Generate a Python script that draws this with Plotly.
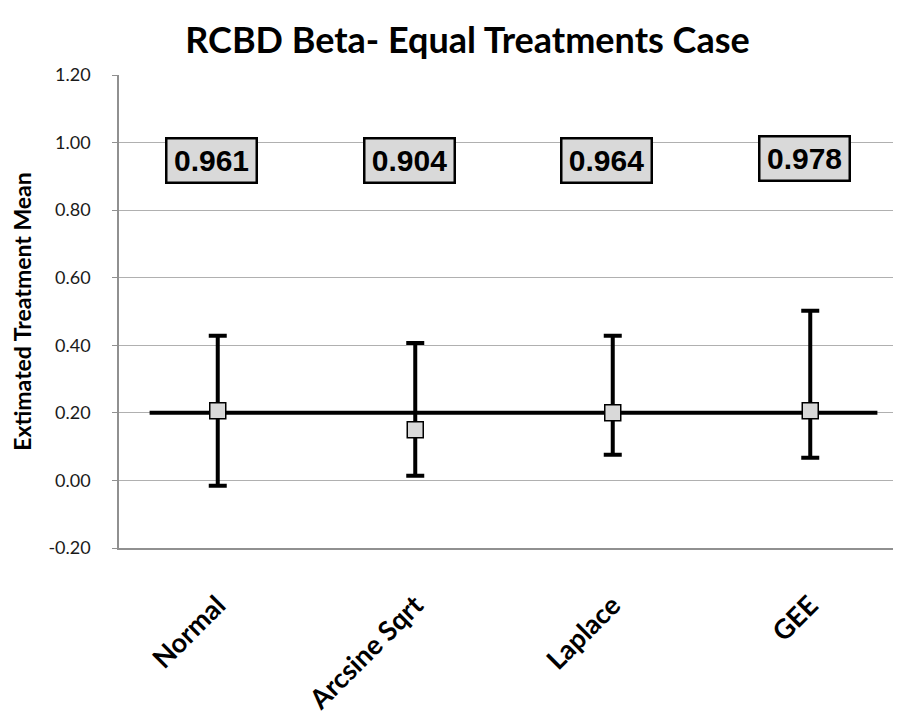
import plotly.graph_objects as go

categories = ["Normal", "Arcsine Sqrt", "Laplace", "GEE"]
means = [0.206, 0.150, 0.200, 0.206]
upper = [0.428, 0.407, 0.428, 0.502]
lower = [-0.016, 0.014, 0.076, 0.067]
coverage_labels = ["0.961", "0.904", "0.964", "0.978"]
label_y = [0.947, 0.947, 0.947, 0.954]
ref_x = [-0.345, 3.34]
ref_y = [0.2, 0.2]
y_ticks = [-0.2, 0.0, 0.2, 0.4, 0.6, 0.8, 1.0, 1.2]

xpos = list(range(len(categories)))
err_plus = [u - m for u, m in zip(upper, means)]
err_minus = [m - l for m, l in zip(means, lower)]

fig = go.Figure()
fig.add_trace(go.Scatter(
    x=ref_x, y=ref_y, mode="lines",
    line=dict(color="black", width=4), showlegend=False, hoverinfo="skip"))
fig.add_trace(go.Scatter(
    x=xpos, y=means, mode="markers",
    marker=dict(symbol="square", size=16, color="#d9d9d9",
                line=dict(color="black", width=1.5)),
    error_y=dict(type="data", symmetric=False, array=err_plus, arrayminus=err_minus,
                 color="black", thickness=4, width=9),
    showlegend=False))

for i, (t, yv) in enumerate(zip(coverage_labels, label_y)):
    fig.add_annotation(x=xpos[i], y=yv, text="<b>" + t + "</b>", showarrow=False,
                       xshift=-6, width=86, height=40,
                       font=dict(family="Arial, Liberation Sans", size=30, color="black"),
                       bgcolor="#d9d9d9", bordercolor="black", borderwidth=2.5,
                       borderpad=1)

fig.update_layout(
    width=901, height=726,
    paper_bgcolor="white", plot_bgcolor="white",
    margin=dict(l=111, r=0, t=67, b=186, autoexpand=False),
    title=dict(text="<b>RCBD Beta- Equal Treatments Case</b>", x=0.51, xanchor="center",
               y=0.955, yanchor="middle",
               font=dict(family="Lato", size=36, color="black", weight="bold")),
    xaxis=dict(range=[-0.5, 3.5], tickmode="array", tickvals=xpos,
               ticktext=["<b>" + c + "</b>" for c in categories],
               tickangle=-45, ticklabelstandoff=29, showgrid=False, zeroline=False,
               showline=True, linecolor="#909090", linewidth=1.5, ticks="",
               tickfont=dict(family="Lato", size=27, color="black", weight="bold")),
    yaxis=dict(range=[-0.2, 1.2], tickmode="array", tickvals=y_ticks,
               ticktext=[f"{v:.2f}" for v in y_ticks],
               showgrid=True, gridcolor="#b0b0b0", gridwidth=1.2, zeroline=False,
               showline=True, linecolor="#909090", linewidth=1.5,
               ticks="outside", ticklen=5, tickcolor="#909090",
               ticklabelstandoff=18,
               tickfont=dict(family="Lato", size=18, color="#1a1a1a"),
               title=dict(text="<b>Extimated Treatment Mean</b>", standoff=29,
                          font=dict(family="Lato", size=23, color="black", weight="bold"))),
)

fig.write_html("out.html")
